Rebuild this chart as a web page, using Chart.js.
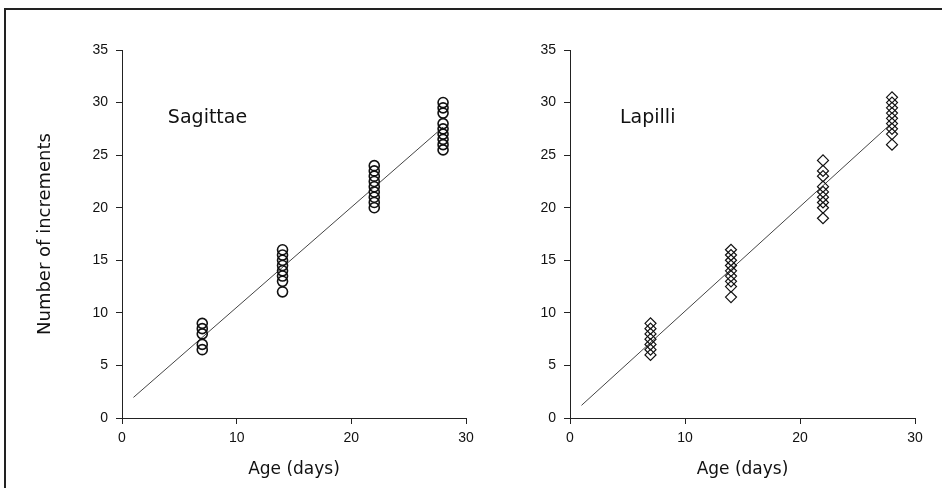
<!DOCTYPE html>
<html>
<head>
<meta charset="utf-8">
<script src="https://cdn.jsdelivr.net/npm/chart.js@4"></script>
<style>
	body { margin: 0; background: #fff; }
	#frame { position: absolute; left: 4px; top: 8px; width: 938px; height: 480px; border-top: 2px solid #222; border-left: 2px solid #222; }
	#left { position: absolute; left: 0; top: 0; }
	#right { position: absolute; left: 480px; top: 0; }
</style>
</head>
<body>
<div id="frame"></div>
<canvas id="left" width="480" height="488"></canvas>
<canvas id="right" width="462" height="488"></canvas>
<script>
// sampling ages (days) and increment counts read for each age
const ages = [7, 14, 22, 28];
const sagittae = [
	[9, 8.5, 8, 7, 6.5],
	[16, 15.5, 15, 14.5, 14, 13.5, 13, 12],
	[24, 23.5, 23, 22.5, 22, 21.5, 21, 20.5, 20],
	[30, 29.5, 29, 28, 27.5, 27, 26.5, 26, 25.5]
];
const lapilli = [
	[9, 8.5, 8, 7.5, 7, 6.5, 6],
	[16, 15.5, 15, 14.5, 14, 13.5, 13, 12.5, 11.5],
	[24.5, 23.5, 23, 22, 21.5, 21, 20.5, 20, 19],
	[30.5, 30, 29.5, 29, 28.5, 28, 27.5, 27, 26]
];
const xTicks = [0, 10, 20, 30];
const yTicks = [0, 5, 10, 15, 20, 25, 30, 35];
const fitRange = [1, 28];

function toPoints(groups) {
	var pts = [];
	groups.forEach(function (vals, i) {
		vals.forEach(function (v) { pts.push({ x: ages[i], y: v }); });
	});
	return pts;
}

// least squares line through the points
function fitLine(pts) {
	var n = pts.length, sx = 0, sy = 0, sxx = 0, sxy = 0;
	pts.forEach(function (p) { sx += p.x; sy += p.y; sxx += p.x * p.x; sxy += p.x * p.y; });
	var b = (n * sxy - sx * sy) / (n * sxx - sx * sx);
	var a = (sy - b * sx) / n;
	return fitRange.map(function (x) { return { x: x, y: a + b * x }; });
}

const labelPlugin = {
	id: 'panelLabel',
	afterDatasetsDraw(chart, args, opts) {
		var ctx = chart.ctx;
		ctx.save();
		ctx.font = '19px "DejaVu Sans"';
		ctx.fillStyle = '#111';
		ctx.textBaseline = 'middle';
		ctx.fillText(opts.text, chart.scales.x.getPixelForValue(opts.x), chart.scales.y.getPixelForValue(opts.y));
		ctx.restore();
	}
};

function makeChart(id, groups, style, label, yWidth, padRight, yTitle) {
	var pts = toPoints(groups);
	return new Chart(id, {
		type: 'scatter',
		data: {
			datasets: [
				{
					data: pts,
					pointStyle: style,
					pointRadius: style === 'circle' ? 5 : 5.5,
					pointBorderWidth: style === 'circle' ? 1.6 : 1.2,
					borderColor: '#111',
					backgroundColor: 'rgba(0,0,0,0)'
				},
				{
					type: 'line',
					data: fitLine(pts),
					borderColor: '#444',
					borderWidth: 1,
					pointRadius: 0,
					fill: false
				}
			]
		},
		options: {
			responsive: false,
			animation: false,
			layout: { padding: { left: 0, right: padRight, top: 50, bottom: 0 } },
			plugins: {
				legend: { display: false },
				tooltip: { enabled: false },
				panelLabel: label
			},
			scales: {
				x: {
					type: 'linear', min: 0, max: 30,
					afterFit: function (s) { s.height = 70; },
					afterBuildTicks: function (s) { s.ticks = xTicks.map(v => ({ value: v })); },
					border: { color: '#222', width: 1 },
					grid: { drawOnChartArea: false, tickLength: 6, color: '#222' },
					ticks: { color: '#111', padding: 6, font: { family: 'Liberation Sans', size: 14 } },
					title: { display: true, text: 'Age (days)', color: '#111', padding: { top: 0, bottom: 7.8 }, font: { family: 'DejaVu Sans', size: 17 } }
				},
				y: {
					type: 'linear', min: 0, max: 35,
					afterFit: function (s) { s.width = yWidth; },
					afterBuildTicks: function (s) { s.ticks = yTicks.map(v => ({ value: v })); },
					border: { color: '#222', width: 1 },
					grid: { drawOnChartArea: false, tickLength: 6, color: '#222' },
					ticks: { color: '#111', padding: 8, font: { family: 'Liberation Sans', size: 14 } },
					title: { display: yTitle, text: 'Number of increments', color: '#111', padding: { top: 34.2, bottom: 0 }, font: { family: 'DejaVu Sans', size: 18 } }
				}
			}
		},
		plugins: [labelPlugin]
	});
}

makeChart('left', sagittae, 'circle', { text: 'Sagittae', x: 4, y: 28.5 }, 122, 14, true);
makeChart('right', lapilli, 'rectRot', { text: 'Lapilli', x: 4.35, y: 28.5 }, 90, 27, false);
</script>
</body>
</html>
